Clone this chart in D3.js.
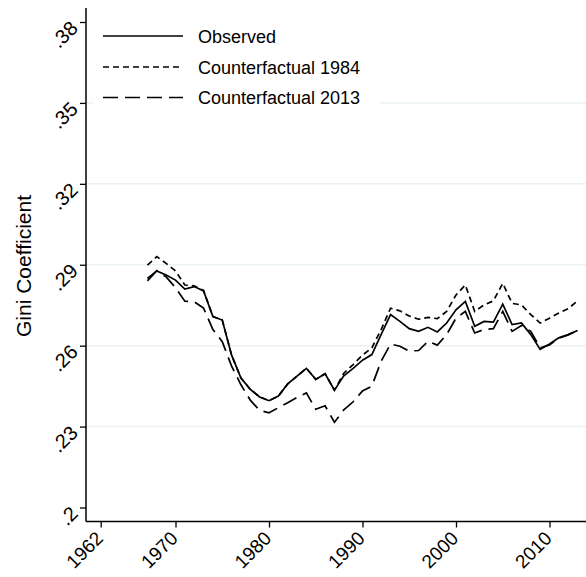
<!DOCTYPE html>
<html lang="en">

<head>
    <title>Gini Coefficient</title>
    <meta charset="utf-8">
    <script src="https://d3js.org/d3.v7.min.js"></script>
    <style>
        body { margin: 0; background: #fff; }
        svg { display: block; font-family: "Liberation Sans", Arial, sans-serif; }
        .axis text { fill: #000; }
    </style>
</head>

<body>
    <div id="container1"></div>
    <script>
        // Data
        const years = [1967, 1968, 1969, 1970, 1971, 1972, 1973, 1974, 1975, 1976,
            1977, 1978, 1979, 1980, 1981, 1982, 1983, 1984, 1985, 1986,
            1987, 1988, 1989, 1990, 1991, 1992, 1993, 1994, 1995, 1996,
            1997, 1998, 1999, 2000, 2001, 2002, 2003, 2004, 2005, 2006,
            2007, 2008, 2009, 2010, 2011, 2012, 2013];

        const observed = [.2849, .2877, .2862, .2843, .2810, .2819, .2803, .2708, .2695, .2565,
            .2480, .2438, .2410, .2396, .2413, .2458, .2487, .2516, .2475, .2496,
            .2435, .2488, .2516, .2546, .2567, .2642, .2715, .2690, .2663, .2653,
            .2668, .2651, .2684, .2733, .2764, .2672, .2690, .2687, .2754, .2678,
            .2684, .2641, .2586, .2606, .2629, .2641, .2656];

        const cf1984 = [.2899, .2930, .2905, .2877, .2825, .2822, .2805, .2708, .2695, .2565,
            .2480, .2438, .2410, .2396, .2413, .2458, .2487, .2516, .2475, .2496,
            .2435, .2498, .2530, .2565, .2592, .2660, .2739, .2729, .2710, .2698,
            .2705, .2700, .2727, .2788, .2825, .2727, .2751, .2766, .2831, .2757,
            .2751, .2715, .2684, .2702, .2721, .2737, .2766];

        const cf2013 = [.2840, .2878, .2855, .2815, .2765, .2763, .2739, .2660, .2615, .2524,
            .2455, .2398, .2360, .2351, .2370, .2388, .2408, .2425, .2364, .2377,
            .2316, .2362, .2392, .2432, .2450, .2543, .2606, .2598, .2580, .2582,
            .2616, .2602, .2641, .2702, .2727, .2647, .2660, .2663, .2727, .2653,
            .2675, .2653, .2592, .2603, .2628, .2640, .2656];

        const seriesNames = ["Observed", "Counterfactual 1984", "Counterfactual 2013"];
        const seriesDash = [null, "6,4", "15,7"];

        const xTicks = [1962, 1970, 1980, 1990, 2000, 2010];
        const yTicks = [0.2, 0.23, 0.26, 0.29, 0.32, 0.35, 0.38];
        const yTickLabels = [".2", ".23", ".26", ".29", ".32", ".35", ".38"];
        const yTitle = "Gini Coefficient";

        // Chart dimensions
        const width = 586;
        const height = 577;
        const axisLeft = 86;
        const axisBottom = 521.5;
        const plotTop = 8;

        const svg = d3.select("#container1")
            .append("svg")
            .attr("width", width)
            .attr("height", height);

        // Scales
        const xScale = d3.scaleLinear()
            .domain([1962, 2010])
            .range([100.7, 549.5]);

        const yScale = d3.scaleLinear()
            .domain([0.2, 0.38])
            .range([507.5, 22]);

        // Gridlines (none at the ends)
        svg.append("g")
            .selectAll("line")
            .data(yTicks.slice(1, -1))
            .join("line")
            .attr("x1", axisLeft)
            .attr("x2", width)
            .attr("y1", d => yScale(d))
            .attr("y2", d => yScale(d))
            .attr("stroke", "#eaf2f3")
            .attr("stroke-width", 1.5);

        // Lines
        const allSeries = [observed, cf1984, cf2013];
        const line = d3.line()
            .x((d, i) => xScale(years[i]))
            .y(d => yScale(d));

        svg.append("g")
            .selectAll("path")
            .data(allSeries)
            .join("path")
            .attr("d", d => line(d))
            .attr("fill", "none")
            .attr("stroke", "#000")
            .attr("stroke-width", 1.7)
            .attr("stroke-dasharray", (d, i) => seriesDash[i]);

        // Legend
        const legend = svg.append("g");
        legend.append("rect")
            .attr("x", 93)
            .attr("y", 10)
            .attr("width", 287)
            .attr("height", 104)
            .attr("fill", "#fff");

        const legendRows = [36, 67, 97.5];
        seriesNames.forEach((name, i) => {
            legend.append("line")
                .attr("x1", 103)
                .attr("x2", 183)
                .attr("y1", legendRows[i])
                .attr("y2", legendRows[i])
                .attr("stroke", "#000")
                .attr("stroke-width", 1.7)
                .attr("stroke-dasharray", seriesDash[i]);
            legend.append("text")
                .attr("x", 198)
                .attr("y", legendRows[i] + 6.5)
                .attr("font-size", 18)
                .text(name);
        });

        // Axes
        const yAxis = svg.append("g")
            .attr("class", "axis")
            .attr("transform", `translate(${axisLeft},0)`)
            .call(d3.axisLeft(yScale)
                .tickValues(yTicks)
                .tickFormat((d, i) => yTickLabels[i])
                .tickSize(6)
                .tickSizeOuter(0));

        yAxis.attr("font-size", 20).attr("font-family", null);
        yAxis.select(".domain").remove();
        yAxis.append("line")
            .attr("x1", 0).attr("x2", 0)
            .attr("y1", plotTop).attr("y2", axisBottom)
            .attr("stroke", "#000").attr("stroke-width", 1.5);

        yAxis.selectAll(".tick line").attr("stroke-width", 1.3);
        yAxis.selectAll(".tick text")
            .attr("x", 0)
            .attr("dy", null)
            .attr("text-anchor", "end")
            .attr("transform", "translate(-7,7) rotate(-45)");

        const xAxis = svg.append("g")
            .attr("class", "axis")
            .attr("transform", `translate(0,${axisBottom})`)
            .call(d3.axisBottom(xScale)
                .tickValues(xTicks)
                .tickFormat(d => d)
                .tickSize(6)
                .tickSizeOuter(0));

        xAxis.attr("font-size", 19).attr("font-family", null);
        xAxis.select(".domain").remove();
        xAxis.append("line")
            .attr("x1", axisLeft).attr("x2", width)
            .attr("y1", 0).attr("y2", 0)
            .attr("stroke", "#000").attr("stroke-width", 1.5);

        xAxis.selectAll(".tick line").attr("stroke-width", 1.3);
        xAxis.selectAll(".tick text")
            .attr("y", 0)
            .attr("dy", null)
            .attr("text-anchor", "end")
            .attr("transform", "translate(3,18) rotate(-45)");

        // Axis title
        svg.append("text")
            .attr("transform", "translate(31,266) rotate(-90)")
            .attr("text-anchor", "middle")
            .attr("font-size", 21)
            .text(yTitle);
    </script>
</body>

</html>
